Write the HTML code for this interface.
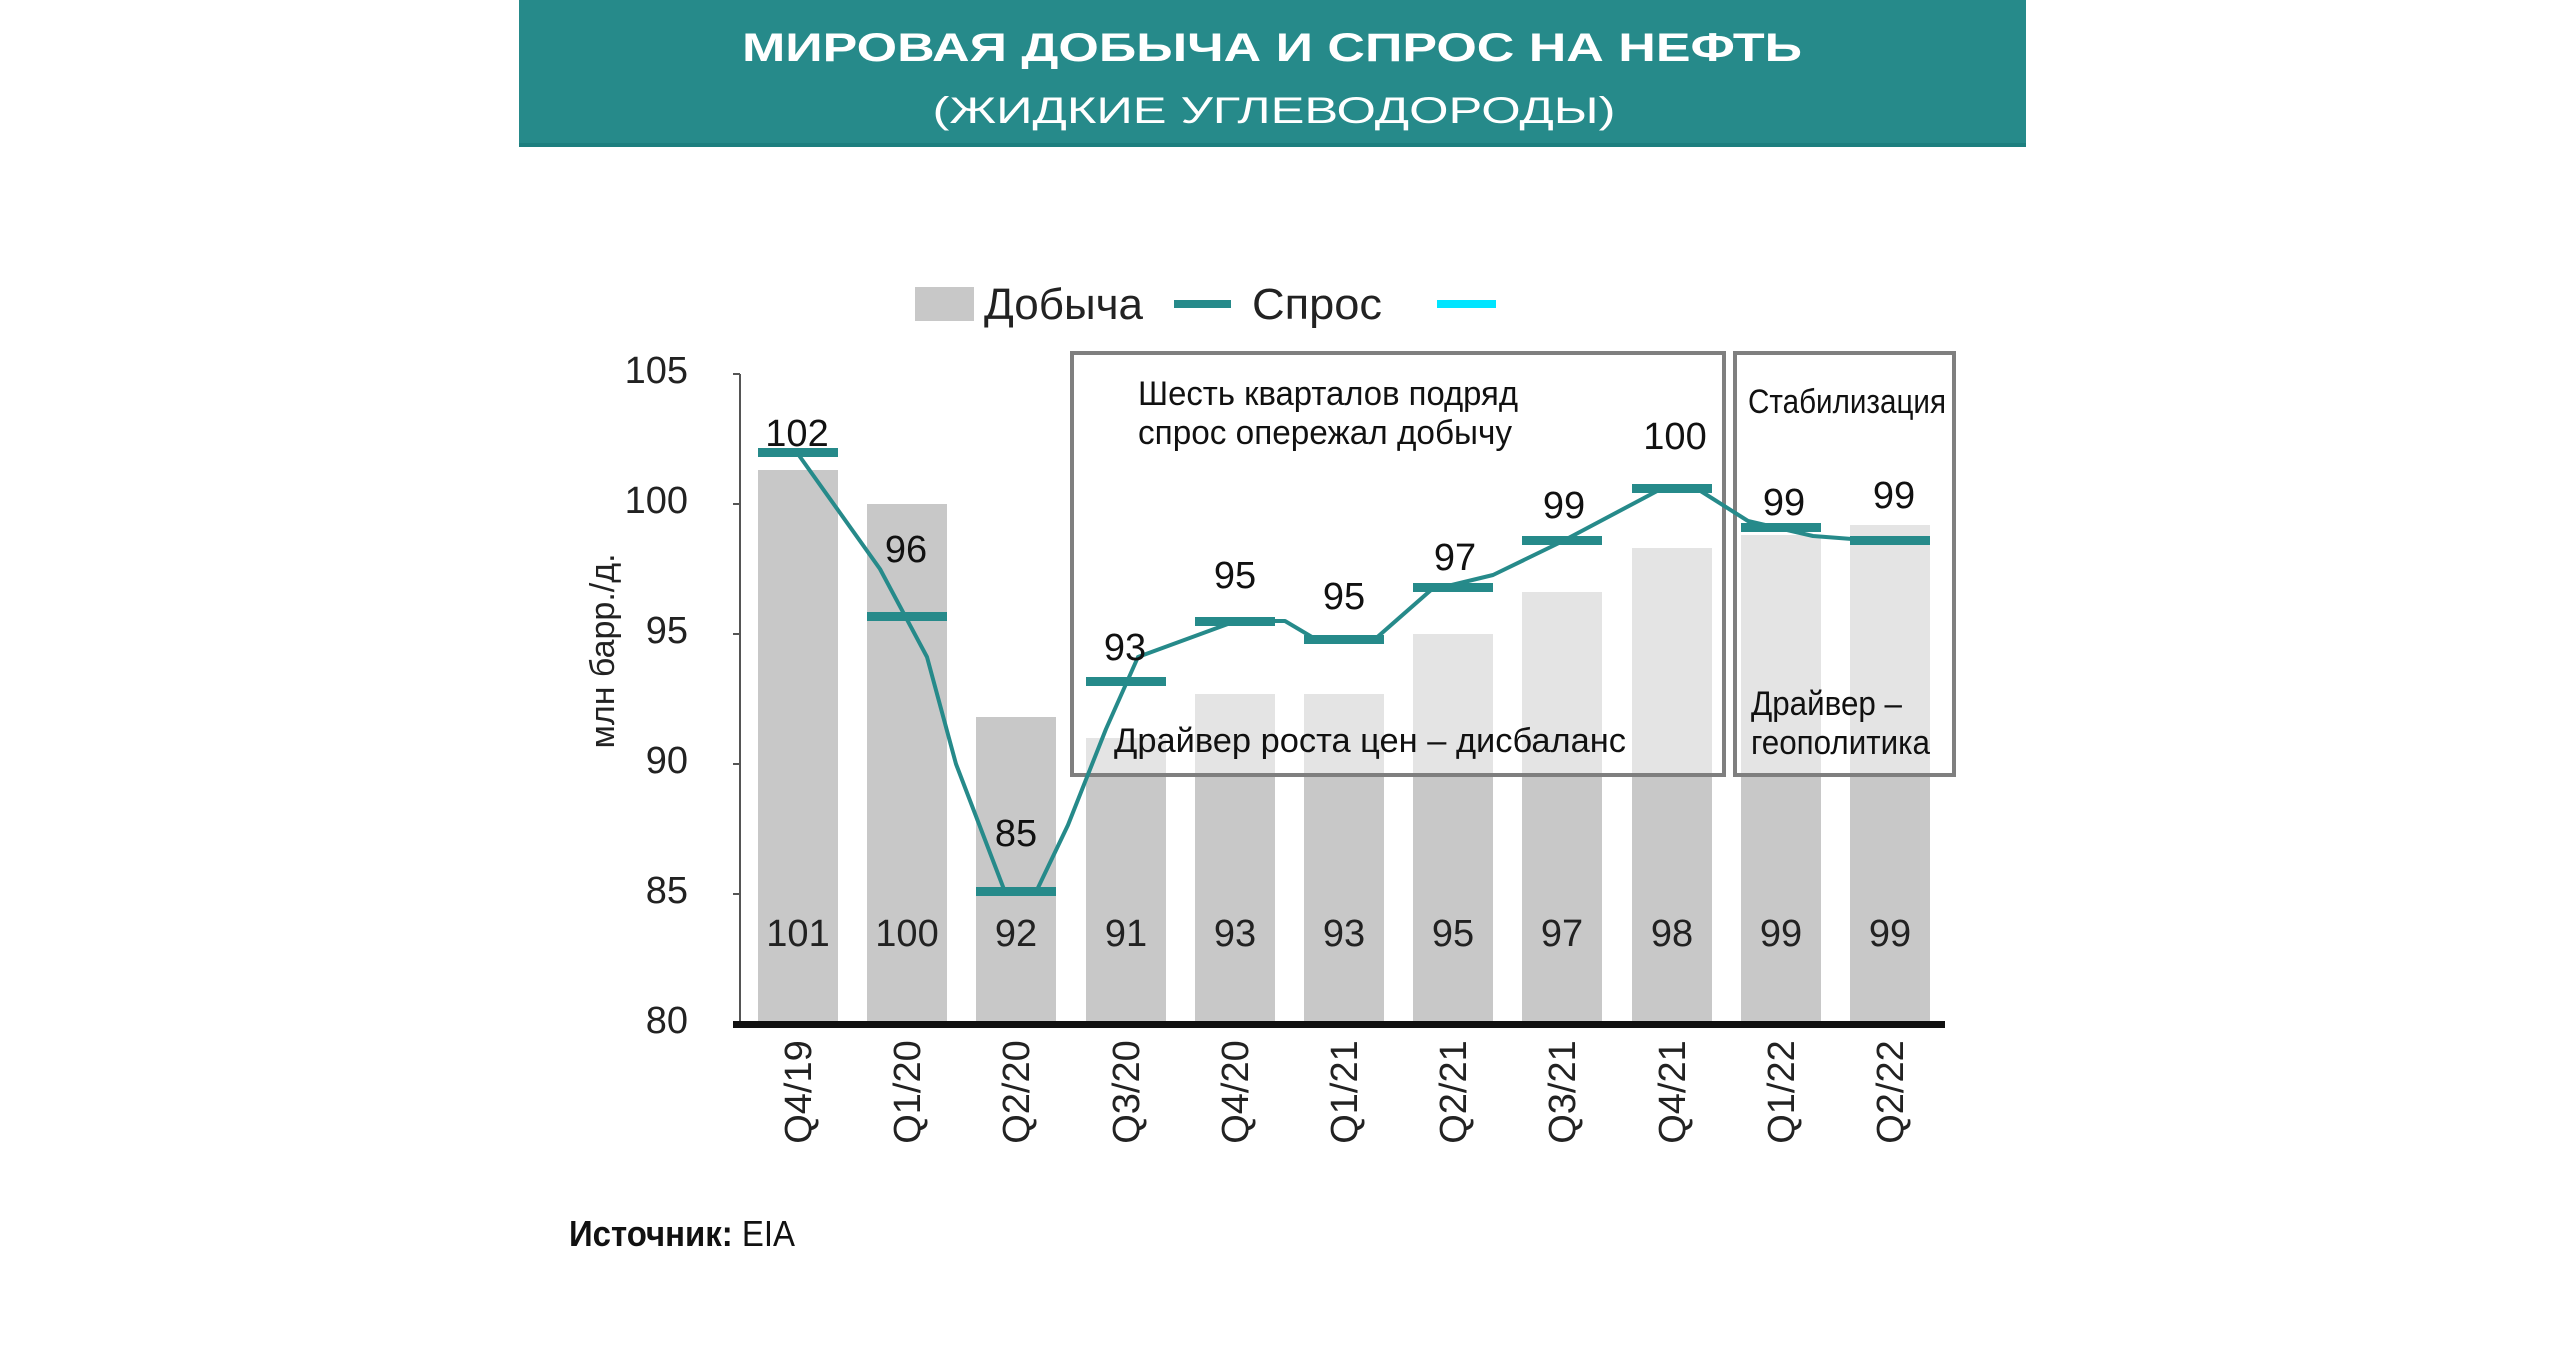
<!DOCTYPE html>
<html><head><meta charset="utf-8"><style>
html,body{margin:0;padding:0;background:#fff;}
svg{display:block;}
text{font-family:"Liberation Sans Narrow","Liberation Sans",sans-serif;}
</style></head><body>
<svg width="2550" height="1360" viewBox="0 0 2550 1360" xmlns="http://www.w3.org/2000/svg">
<rect x="519" y="0" width="1507" height="147" fill="#268a8a"/>
<rect x="519" y="143" width="1507" height="4" fill="#1d7f7f"/>
<text x="1272" y="61" text-anchor="middle" font-size="40" font-weight="bold" fill="#fff" textLength="1060" lengthAdjust="spacingAndGlyphs">МИРОВАЯ ДОБЫЧА И СПРОС НА НЕФТЬ</text>
<text x="1274" y="123" text-anchor="middle" font-size="37" fill="#fff" textLength="683" lengthAdjust="spacingAndGlyphs">(ЖИДКИЕ УГЛЕВОДОРОДЫ)</text>

<rect x="915" y="287" width="59" height="34" fill="#c8c8c8"/>
<text x="984" y="319" font-size="44" fill="#222" textLength="159" lengthAdjust="spacingAndGlyphs">Добыча</text>
<rect x="1174" y="300" width="57" height="8" fill="#268a8a"/>
<text x="1252" y="319" font-size="44" fill="#222" textLength="130" lengthAdjust="spacingAndGlyphs">Спрос</text>
<rect x="1437" y="300" width="59" height="8" fill="#00e5ff"/>

<g fill="#c8c8c8">
<rect x="758" y="470" width="80" height="554"/>
<rect x="867" y="504" width="80" height="520"/>
<rect x="976" y="717" width="80" height="307"/>
<rect x="1086" y="738" width="80" height="286"/>
<rect x="1195" y="694" width="80" height="330"/>
<rect x="1304" y="694" width="80" height="330"/>
<rect x="1413" y="634" width="80" height="390"/>
<rect x="1522" y="592" width="80" height="432"/>
<rect x="1632" y="548" width="80" height="476"/>
<rect x="1741" y="535" width="80" height="489"/>
<rect x="1850" y="525" width="80" height="499"/>
</g>

<rect x="1072" y="353" width="652" height="422" fill="rgba(255,255,255,0.5)" stroke="#7f7f7f" stroke-width="4"/>
<rect x="1735" y="353" width="219" height="422" fill="rgba(255,255,255,0.5)" stroke="#7f7f7f" stroke-width="4"/>

<line x1="740" y1="374" x2="740" y2="1024" stroke="#555" stroke-width="2"/>
<g stroke="#555" stroke-width="2">
<line x1="733" y1="374" x2="740" y2="374"/><line x1="733" y1="504" x2="740" y2="504"/>
<line x1="733" y1="634" x2="740" y2="634"/><line x1="733" y1="764" x2="740" y2="764"/>
<line x1="733" y1="894" x2="740" y2="894"/>
</g>
<rect x="733" y="1021" width="1212" height="7" fill="#111"/>
<g font-size="38" fill="#222" text-anchor="end">
<text x="688" y="383">105</text><text x="688" y="513">100</text><text x="688" y="643">95</text>
<text x="688" y="773">90</text><text x="688" y="903">85</text><text x="688" y="1033">80</text>
</g>
<text transform="translate(614,651) rotate(-90)" text-anchor="middle" font-size="34" fill="#222">млн барр./д.</text>

<polyline points="798,454 880,569 927,657 956,764 1005,892 1036,892 1068,825 1106,729 1138,657 1236,621 1285,621 1317,640 1374,640 1431,590 1493,575 1561,542 1659,490 1699,490 1748,521 1813,536 1891,542" fill="none" stroke="#268a8a" stroke-width="4" stroke-linejoin="round"/>
<g fill="#268a8a">
<rect x="758" y="448" width="80" height="9"/>
<rect x="867" y="612" width="80" height="9"/>
<rect x="976" y="887" width="80" height="9"/>
<rect x="1086" y="677" width="80" height="9"/>
<rect x="1195" y="617" width="80" height="9"/>
<rect x="1304" y="635" width="80" height="9"/>
<rect x="1413" y="583" width="80" height="9"/>
<rect x="1522" y="536" width="80" height="9"/>
<rect x="1632" y="484" width="80" height="9"/>
<rect x="1741" y="523" width="80" height="9"/>
<rect x="1850" y="536" width="80" height="9"/>
</g>
<g font-size="38" fill="#111" text-anchor="middle">
<text x="797" y="446">102</text><text x="906" y="562">96</text><text x="1016" y="846">85</text>
<text x="1125" y="660">93</text><text x="1235" y="588">95</text><text x="1344" y="609">95</text>
<text x="1455" y="570">97</text><text x="1564" y="518">99</text><text x="1675" y="449">100</text>
<text x="1784" y="515">99</text><text x="1894" y="508">99</text>
</g>
<g font-size="38" fill="#222" text-anchor="middle">
<text x="798" y="946">101</text><text x="907" y="946">100</text><text x="1016" y="946">92</text>
<text x="1126" y="946">91</text><text x="1235" y="946">93</text><text x="1344" y="946">93</text>
<text x="1453" y="946">95</text><text x="1562" y="946">97</text><text x="1672" y="946">98</text>
<text x="1781" y="946">99</text><text x="1890" y="946">99</text>
</g>
<g font-size="38" fill="#222" text-anchor="middle">
<text transform="translate(811,1092) rotate(-90)">Q4/19</text>
<text transform="translate(920,1092) rotate(-90)">Q1/20</text>
<text transform="translate(1029,1092) rotate(-90)">Q2/20</text>
<text transform="translate(1139,1092) rotate(-90)">Q3/20</text>
<text transform="translate(1248,1092) rotate(-90)">Q4/20</text>
<text transform="translate(1357,1092) rotate(-90)">Q1/21</text>
<text transform="translate(1466,1092) rotate(-90)">Q2/21</text>
<text transform="translate(1575,1092) rotate(-90)">Q3/21</text>
<text transform="translate(1685,1092) rotate(-90)">Q4/21</text>
<text transform="translate(1794,1092) rotate(-90)">Q1/22</text>
<text transform="translate(1903,1092) rotate(-90)">Q2/22</text>
</g>
<g font-size="34" fill="#111" lengthAdjust="spacingAndGlyphs">
<text x="1138" y="405" textLength="380" lengthAdjust="spacingAndGlyphs">Шесть кварталов подряд</text>
<text x="1138" y="444" textLength="374" lengthAdjust="spacingAndGlyphs">спрос опережал добычу</text>
<text x="1114" y="752" textLength="512" lengthAdjust="spacingAndGlyphs">Драйвер роста цен – дисбаланс</text>
<text x="1748" y="413" textLength="198" lengthAdjust="spacingAndGlyphs">Стабилизация</text>
<text x="1751" y="715" textLength="151" lengthAdjust="spacingAndGlyphs">Драйвер –</text>
<text x="1751" y="754" textLength="179" lengthAdjust="spacingAndGlyphs">геополитика</text>
</g>
<text x="569" y="1246" font-size="36" fill="#111" textLength="226" lengthAdjust="spacingAndGlyphs"><tspan font-weight="bold">Источник:</tspan> EIA</text>
</svg>
</body></html>
